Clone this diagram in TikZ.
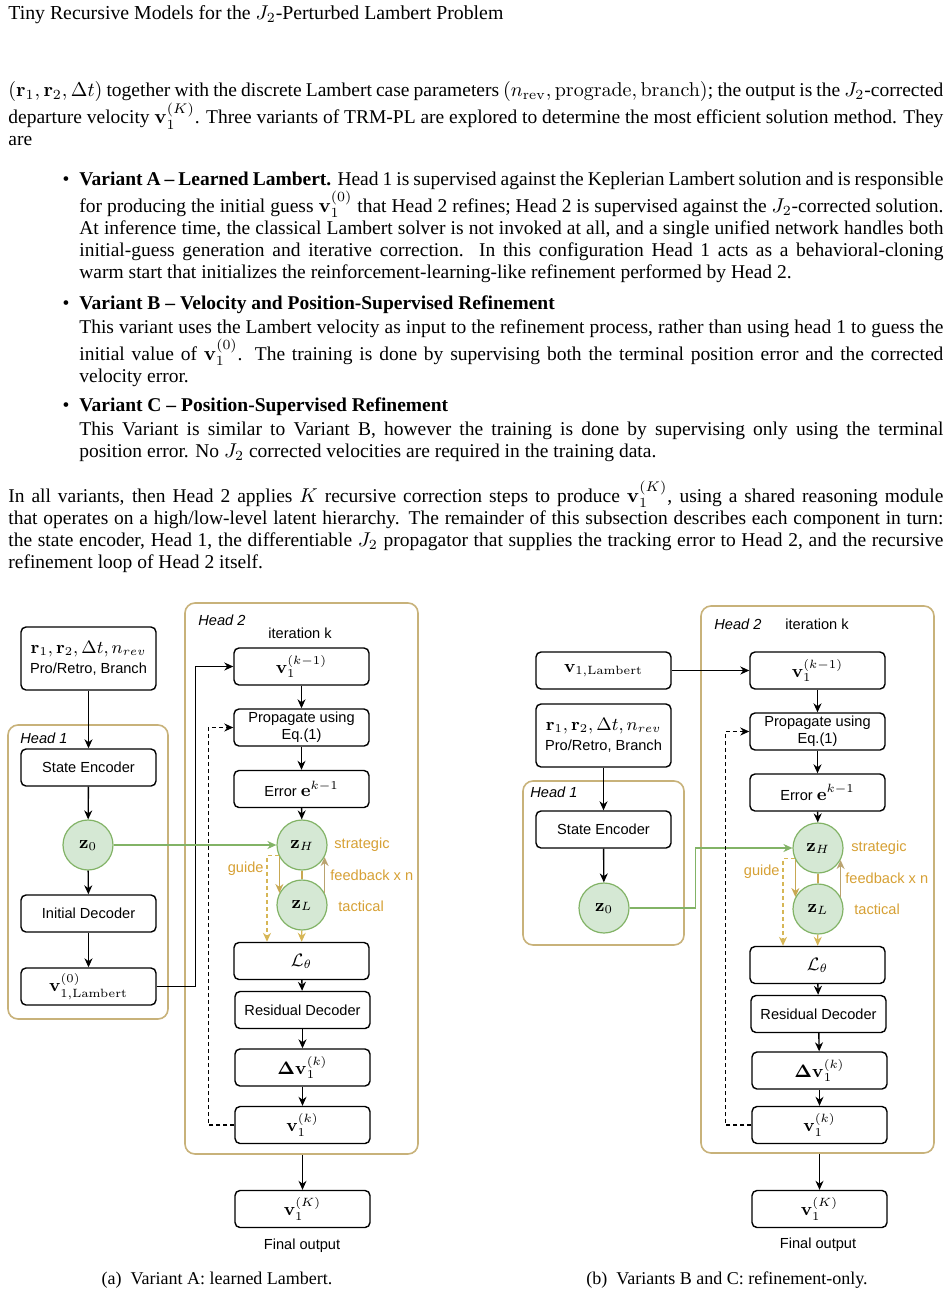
\documentclass[tikz,border=0pt]{standalone}
\usepackage{amsmath}
\usepackage[no-math]{fontspec}
\setmainfont{Liberation Serif}
\newfontfamily\diagfont{Liberation Sans}
\usetikzlibrary{arrows.meta,calc}

\definecolor{headgold}{RGB}{200,178,122}
\definecolor{labelgold}{RGB}{214,160,52}
\definecolor{guidegold}{RGB}{214,182,86}
\definecolor{linkgold}{RGB}{200,168,82}
\definecolor{backkhaki}{RGB}{186,163,112}
\definecolor{zfill}{RGB}{213,232,212}
\definecolor{zdraw}{RGB}{130,179,102}

\newcommand{\dfont}{\diagfont\fontsize{7.3}{8.6}\selectfont}
\newcommand{\mth}[1]{{\fontsize{9}{10}\selectfont$#1$}}
\newcommand{\bodyfont}{\fontsize{9.75}{11}\selectfont\spaceskip=2.45pt plus 1.5pt minus 1.1pt
  \hyphenpenalty=10000 \exhyphenpenalty=10000 \tolerance=3000}

\tikzset{
  stage/.style={draw, fill=white, rounded corners=2.5pt, line width=0.7pt,
    minimum width=67.5pt, minimum height=18.5pt, inner sep=1pt, font=\dfont, align=center},
  inputbox/.style={stage, minimum height=31.5pt},
  latent/.style={circle, draw=zdraw, fill=zfill, line width=0.6pt, minimum size=25pt, inner sep=0pt},
  headbox/.style={draw=headgold, rounded corners=5pt, line width=0.8pt, inner sep=0pt},
  headlabel/.style={font=\dfont\itshape, anchor=west, inner sep=0pt},
  goldlabel/.style={font=\dfont, text=labelgold, inner sep=0pt},
  arr/.style={-{Stealth[length=4.5pt,width=4pt]}, line width=0.7pt},
  zarr/.style={arr, draw=zdraw, line width=0.8pt},
  downarr/.style={arr, draw=linkgold},
  backarr/.style={arr, draw=backkhaki},
  goldarr/.style={arr, draw=guidegold},
  guide/.style={arr, draw=guidegold, dash pattern=on 2pt off 1.5pt},
  loopback/.style={arr, dash pattern=on 2pt off 1.5pt},
  bodytext/.style={anchor=base west, inner sep=0pt, font=\bodyfont, align=justify}
}

\begin{document}
\begin{tikzpicture}[x=0.5pt, y=-0.5pt]
  \useasboundingbox (0,0) rectangle (952,1296);

  % page text
  \node[anchor=base west, inner sep=0pt, font=\fontsize{9.9}{11}\selectfont] (title) at (8,19) {Tiny Recursive Models for the $J_2$-Perturbed Lambert Problem};
  \node[bodytext, text width=467.5pt] (intro) at (8,96)
    {$(\mathbf{r}_1,\mathbf{r}_2,\Delta t)$ together with the discrete Lambert case parameters $(n_{\mathrm{rev}},\mathrm{prograde},\mathrm{branch})$; the output is the $J_2$-corrected\linebreak
     departure velocity $\mathbf{v}_1^{(K)}$. Three variants of TRM-PL are explored to determine the most efficient solution method. They\linebreak
     are};
  \node[bodytext, text width=432pt] (itemA) at (79,185)
    {\llap{\textbullet\hskip5pt}\textbf{Variant A -- Learned Lambert.} Head 1 is supervised against the Keplerian Lambert solution and is responsible\linebreak
     for producing the initial guess $\mathbf{v}_1^{(0)}$ that Head 2 refines; Head 2 is supervised against the $J_2$-corrected solution.\linebreak
     At inference time, the classical Lambert solver is not invoked at all, and a single unified network handles both\linebreak
     initial-guess generation and iterative correction.\ \ In this configuration Head 1 acts as a behavioral-cloning\linebreak
     warm start that initializes the reinforcement-learning-like refinement performed by Head 2.};
  \node[bodytext, text width=432pt] (itemB) at (79,309)
    {\llap{\textbullet\hskip5pt}\textbf{Variant B -- Velocity and Position-Supervised Refinement}\\[1pt]
     This variant uses the Lambert velocity as input to the refinement process, rather than using head 1 to guess the\linebreak
     initial value of $\mathbf{v}_1^{(0)}$. The training is done by supervising both the terminal position error and the corrected\linebreak
     velocity error.};
  \node[bodytext, text width=432pt] (itemC) at (79,411)
    {\llap{\textbullet\hskip5pt}\textbf{Variant C -- Position-Supervised Refinement}\\[1pt]
     This Variant is similar to Variant B, however the training is done by supervising only using the terminal\linebreak
     position error. No $J_2$ corrected velocities are required in the training data.};
  \node[bodytext, text width=467.5pt] (closing) at (8,502)
    {In all variants, then Head 2 applies $K$ recursive correction steps to produce $\mathbf{v}_1^{(K)}$, using a shared reasoning module\linebreak
     that operates on a high/low-level latent hierarchy. The remainder of this subsection describes each component in turn:\linebreak
     the state encoder, Head 1, the differentiable $J_2$ propagator that supplies the tracking error to Head 2, and the recursive\linebreak
     refinement loop of Head 2 itself.};

  % (a) variant A
  \node[headbox, minimum width=80pt, minimum height=147pt] (h1A) at (88,872) {};
  \node[headbox, minimum width=116.5pt, minimum height=275.5pt] (h2A) at (301.5,878.5) {};
  \node[headlabel] (h1Alabel) at (20,738) {Head 1};
  \node[headlabel] (h2Alabel) at (198,620) {Head 2};
  \node[font=\dfont] (iterA) at (300,633) {iteration k};

  \node[inputbox] (inA) at (88.5,658.5) {\mth{\mathbf{r}_1,\mathbf{r}_2,\Delta t,n_{rev}}\\[1.5pt]Pro/Retro, Branch};
  \node[stage] (encA) at (88.5,767.5) {State Encoder};
  \node[latent] (z0A) at (88,845) {\mth{\mathbf{z}_0}};
  \node[stage] (decA) at (88.5,913.5) {Initial Decoder};
  \node[stage] (v0A) at (88.5,986.5) {\mth{\mathbf{v}_{1,\mathrm{Lambert}}^{(0)}}};

  \node[stage] (vprevA) at (301.5,666.5) {\mth{\mathbf{v}_1^{(k-1)}}};
  \node[stage] (propA) at (301.5,727.5) {Propagate using\\Eq.(1)};
  \node[stage] (errA) at (301.5,789) {Error \mth{\mathbf{e}^{k-1}}};
  \node[latent] (zHA) at (302,845) {\mth{\mathbf{z}_H}};
  \node[latent] (zLA) at (302,905) {\mth{\mathbf{z}_L}};
  \node[stage] (lossA) at (301.5,961) {\mth{\mathcal{L}_\theta}};
  \node[stage] (resA) at (302.5,1010) {Residual Decoder};
  \node[stage] (dvA) at (302.5,1067.5) {\mth{\mathbf{\Delta v}_1^{(k)}}};
  \node[stage] (vkA) at (302.5,1125) {\mth{\mathbf{v}_1^{(k)}}};
  \node[stage] (vKA) at (302.5,1209) {\mth{\mathbf{v}_1^{(K)}}};
  \node[font=\dfont] (outA) at (302,1246) {Final output};

  \node[goldlabel, anchor=west] (stratA) at (334,845) {strategic};
  \node[goldlabel, anchor=west] (feedA) at (330,875) {feedback x n};
  \node[goldlabel, anchor=west] (tactA) at (338,906) {tactical};
  \node[goldlabel, anchor=east] (guideA) at (264,869) {guide};

  \draw[arr] (inA) -- (encA);
  \draw[arr] (encA) -- (z0A);
  \draw[arr] (z0A) -- (decA);
  \draw[arr] (decA) -- (v0A);
  \draw[arr] (v0A.east) -- ++(39,0) |- (vprevA.west);
  \draw[arr] (vprevA) -- (propA);
  \draw[arr] (propA) -- (errA);
  \draw[arr] (errA) -- (zHA);
  \draw[zarr] (z0A) -- (zHA);
  \draw[linkgold, line width=0.6pt] (zHA) -- (zLA);
  \draw[downarr] (zHA.208) -- (zLA.152);
  \draw[backarr] (zLA.28) -- (zHA.332);
  \draw[guide] (zHA.204) -| ($(lossA.north)+(-34.5,0)$);
  \draw[goldarr] (zLA) -- (lossA);
  \draw[arr] (lossA) -- (resA);
  \draw[arr] (resA) -- (dvA);
  \draw[arr] (dvA) -- (vkA);
  \draw[loopback] (vkA.west) -- ++(-26,0) |- (propA.west);
  \draw[arr] (h2A.south -| vKA.north) -- (vKA);

  \node[font=\fontsize{9}{11}\selectfont] (capA) at (217,1280) {(a)\hskip0.5em Variant A: learned Lambert.};

  % (b) variants B and C
  \node[headbox, minimum width=80.5pt, minimum height=82pt] (h1B) at (603.5,863) {};
  \node[headbox, minimum width=116.5pt, minimum height=273.5pt] (h2B) at (817.5,879.5) {};
  \node[headlabel] (h1Blabel) at (530,792) {Head 1};
  \node[headlabel] (h2Blabel) at (714,624) {Head 2};
  \node[font=\dfont, anchor=west, inner sep=0pt] (iterB) at (785,624) {iteration k};

  \node[stage] (vLamB) at (603.5,670.5) {\mth{\mathbf{v}_{1,\mathrm{Lambert}}}};
  \node[inputbox] (inB) at (603.5,735.5) {\mth{\mathbf{r}_1,\mathbf{r}_2,\Delta t,n_{rev}}\\[1.5pt]Pro/Retro, Branch};
  \node[stage] (encB) at (603.5,829.5) {State Encoder};
  \node[latent] (z0B) at (604,908) {\mth{\mathbf{z}_0}};

  \node[stage] (vprevB) at (817.5,670.5) {\mth{\mathbf{v}_1^{(k-1)}}};
  \node[stage] (propB) at (817.5,731.5) {Propagate using\\Eq.(1)};
  \node[stage] (errB) at (817.5,792.5) {Error \mth{\mathbf{e}^{k-1}}};
  \node[latent] (zHB) at (818,848) {\mth{\mathbf{z}_H}};
  \node[latent] (zLB) at (818,909) {\mth{\mathbf{z}_L}};
  \node[stage] (lossB) at (817.5,965) {\mth{\mathcal{L}_\theta}};
  \node[stage] (resB) at (818.5,1014) {Residual Decoder};
  \node[stage] (dvB) at (819.5,1070.5) {\mth{\mathbf{\Delta v}_1^{(k)}}};
  \node[stage] (vkB) at (819.5,1125) {\mth{\mathbf{v}_1^{(k)}}};
  \node[stage] (vKB) at (819.5,1209) {\mth{\mathbf{v}_1^{(K)}}};
  \node[font=\dfont] (outB) at (818,1245) {Final output};

  \node[goldlabel, anchor=west] (stratB) at (851,848) {strategic};
  \node[goldlabel, anchor=west] (feedB) at (845,878) {feedback x n};
  \node[goldlabel, anchor=west] (tactB) at (854,909) {tactical};
  \node[goldlabel, anchor=east] (guideB) at (780,872) {guide};

  \draw[arr] (vLamB) -- (vprevB);
  \draw[arr] (inB) -- (encB);
  \draw[arr] (encB) -- (z0B);
  \draw[zarr] (z0B.east) -- ++(66,0) |- (zHB.west);
  \draw[arr] (vprevB) -- (propB);
  \draw[arr] (propB) -- (errB);
  \draw[arr] (errB) -- (zHB);
  \draw[linkgold, line width=0.6pt] (zHB) -- (zLB);
  \draw[downarr] (zHB.208) -- (zLB.152);
  \draw[backarr] (zLB.28) -- (zHB.332);
  \draw[guide] (zHB.204) -| ($(lossB.north)+(-34.5,0)$);
  \draw[goldarr] (zLB) -- (lossB);
  \draw[arr] (lossB) -- (resB);
  \draw[arr] (resB) -- (dvB);
  \draw[arr] (dvB) -- (vkB);
  \draw[loopback] (vkB.west) -- ++(-26,0) |- (propB.west);
  \draw[arr] (h2B.south -| vKB.north) -- (vKB);

  \node[font=\fontsize{9}{11}\selectfont] (capB) at (727,1280) {(b)\hskip0.5em Variants B and C: refinement-only.};
\end{tikzpicture}
\end{document}
